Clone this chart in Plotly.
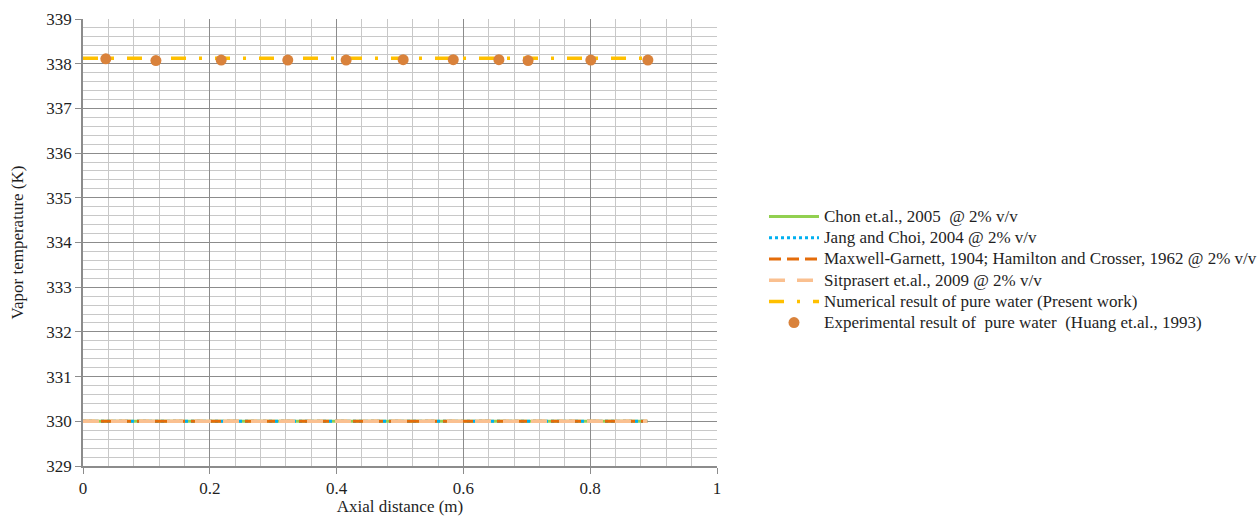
import plotly.graph_objects as go

# ---- data ----
x_model = [0.0, 0.1, 0.2, 0.3, 0.4, 0.5, 0.6, 0.7, 0.8, 0.89]
t_chon = [330.0, 330.0, 330.0, 330.0, 330.0, 330.0, 330.0, 330.0, 330.0, 330.0]
t_jang = [330.0, 330.0, 330.0, 330.0, 330.0, 330.0, 330.0, 330.0, 330.0, 330.0]
t_maxwell = [330.0, 330.0, 330.0, 330.0, 330.0, 330.0, 330.0, 330.0, 330.0, 330.0]
t_sitprasert = [330.0, 330.0, 330.0, 330.0, 330.0, 330.0, 330.0, 330.0, 330.0, 330.0]
t_numerical = [338.12, 338.12, 338.12, 338.12, 338.12, 338.12, 338.12, 338.12, 338.12, 338.12]

x_exp = [0.036, 0.115, 0.218, 0.323, 0.415, 0.505, 0.584, 0.656, 0.702, 0.801, 0.891]
t_exp = [338.11, 338.07, 338.08, 338.08, 338.08, 338.09, 338.09, 338.09, 338.07, 338.08, 338.08]

names = [
    "Chon et.al., 2005  @ 2% v/v",
    "Jang and Choi, 2004 @ 2% v/v",
    "Maxwell-Garnett, 1904; Hamilton and Crosser, 1962 @ 2% v/v",
    "Sitprasert et.al., 2009 @ 2% v/v",
    "Numerical result of pure water (Present work)",
    "Experimental result of  pure water  (Huang et.al., 1993)",
]

x_ticks = [0, 0.2, 0.4, 0.6, 0.8, 1]
x_ticklabels = ["0", "0.2", "0.4", "0.6", "0.8", "1"]
y_ticks = [329, 330, 331, 332, 333, 334, 335, 336, 337, 338, 339]

FONT = "Liberation Serif, Times New Roman, serif"
TXT = "#1f1f1f"


def leg(name):
    return '<span style="font-size:17px">' + name + '</span>'


fig = go.Figure()
fig.add_trace(go.Scatter(x=x_model, y=t_chon, mode="lines", name=leg(names[0]),
                         line=dict(color="#92D050", width=3)))
fig.add_trace(go.Scatter(x=x_model, y=t_jang, mode="lines", name=leg(names[1]),
                         line=dict(color="#00B0F0", width=3, dash="dot")))
fig.add_trace(go.Scatter(x=x_model, y=t_maxwell, mode="lines", name=leg(names[2]),
                         line=dict(color="#E46C0A", width=3, dash="12px,6px")))
fig.add_trace(go.Scatter(x=x_model, y=t_sitprasert, mode="lines", name=leg(names[3]),
                         line=dict(color="#FAC090", width=3.5, dash="16px,12px")))
fig.add_trace(go.Scatter(x=x_model, y=t_numerical, mode="lines", name=leg(names[4]),
                         line=dict(color="#FFC000", width=3.5, dash="15px,13px,3px,13px")))
fig.add_trace(go.Scatter(x=x_exp, y=t_exp, mode="markers", name=leg(names[5]),
                         marker=dict(color="#D9823B", size=11)))

fig.update_layout(
    width=1259, height=516,
    margin=dict(l=83, r=542, t=19, b=50),
    paper_bgcolor="white", plot_bgcolor="white",
    font=dict(family=FONT, size=17, color=TXT),
    legend=dict(xref="container", yref="container",
                x=764 / 1259, y=1 - 201 / 516, xanchor="left", yanchor="top",
                font=dict(family=FONT, size=14, color=TXT),
                bgcolor="rgba(0,0,0,0)", tracegroupgap=0, itemwidth=50),
    showlegend=True,
)
fig.update_xaxes(
    range=[0, 1], tickvals=x_ticks, ticktext=x_ticklabels,
    showgrid=True, gridcolor="#8C8C8C", gridwidth=1.2,
    minor=dict(dtick=0.04, showgrid=True, gridcolor="#C8C8C8", gridwidth=1),
    showline=True, linecolor="#8C8C8C", linewidth=1.5,
    ticks="outside", ticklen=6, tickcolor="#8C8C8C",
    zeroline=False, automargin=False,
    title=dict(text="Axial distance (m)", font=dict(family=FONT, size=17, color=TXT), standoff=6),
    tickfont=dict(family=FONT, size=17, color=TXT),
)
fig.update_yaxes(
    range=[329, 339], tickvals=y_ticks,
    showgrid=True, gridcolor="#8C8C8C", gridwidth=1.2,
    minor=dict(dtick=0.2, showgrid=True, gridcolor="#C8C8C8", gridwidth=1),
    showline=True, linecolor="#8C8C8C", linewidth=1.5,
    ticks="outside", ticklen=6, tickcolor="#8C8C8C",
    zeroline=False, automargin=False,
    title=dict(text="Vapor temperature (K)", font=dict(family=FONT, size=17, color=TXT), standoff=18),
    tickfont=dict(family=FONT, size=17, color=TXT),
)

fig.write_html("out.html")
